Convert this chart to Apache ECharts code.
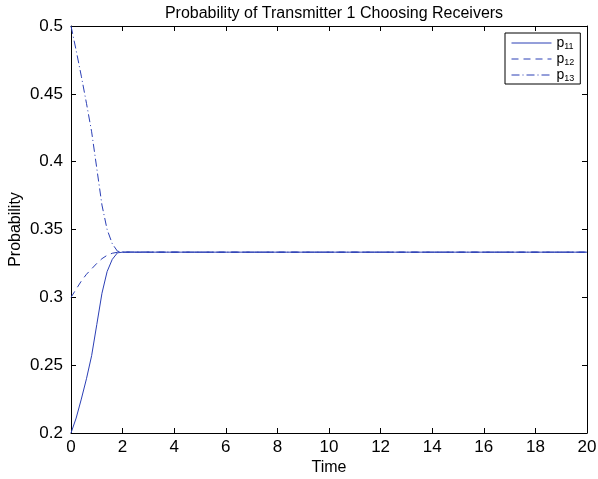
<!DOCTYPE html>
<html>
<head>
<meta charset="utf-8">
<script src="https://cdn.jsdelivr.net/npm/echarts@6/dist/echarts.min.js"></script>
<style>
  html, body { margin: 0; padding: 0; background: #fff; }
  #chart-container { width: 598px; height: 479px; }
</style>
</head>
<body>
<div id="chart-container"></div>
<script>
// Data
const time = [0, 0.2, 0.4, 0.6, 0.8, 1.0, 1.2, 1.4, 1.6, 1.8, 2.0, 5, 10, 15, 20];
const p11 = [0.200, 0.211, 0.225, 0.240, 0.257, 0.280, 0.303, 0.319, 0.328, 0.3328, 0.3333, 0.3333, 0.3333, 0.3333, 0.3333];
const p12 = [0.300, 0.306, 0.312, 0.317, 0.321, 0.325, 0.3285, 0.331, 0.3325, 0.3332, 0.3333, 0.3333, 0.3333, 0.3333, 0.3333];
const p13 = [0.500, 0.482, 0.463, 0.443, 0.422, 0.395, 0.368, 0.350, 0.3395, 0.3340, 0.3334, 0.3333, 0.3333, 0.3333, 0.3333];
const seriesNames = ['p11', 'p12', 'p13'];

const lineColor = '#2b3fb5';
const font = 'Liberation Sans';

const chartContainer = document.getElementById('chart-container');
const myChart = echarts.init(chartContainer);

function pairs(values) {
  return time.map((t, i) => [t, values[i]]);
}

const tickStyle = { show: true, inside: true, length: 5, lineStyle: { color: '#000' } };
const boxLine = { show: true, onZero: false, lineStyle: { color: '#000', width: 1 } };

function lineSeries(name, values, dash) {
  return {
    name: name,
    type: 'line',
    data: pairs(values),
    showSymbol: false,
    symbol: 'none',
    smooth: false,
    lineStyle: { color: lineColor, width: 1, type: dash },
    itemStyle: { color: lineColor }
  };
}

const option = {
  backgroundColor: '#fff',
  animation: false,
  title: {
    text: 'Probability of Transmitter 1 Choosing Receivers',
    left: 329,
    textAlign: 'center',
    top: 1,
    textStyle: { fontFamily: font, fontSize: 16, fontWeight: 'normal', color: '#000' }
  },
  legend: {
    data: seriesNames,
    orient: 'vertical',
    left: 505,
    top: 33,
    padding: [2, 6, 1, 6],
    itemGap: 0,
    itemWidth: 40,
    itemHeight: 10,
    borderColor: '#000',
    borderWidth: 1,
    backgroundColor: '#fff',
    itemStyle: { opacity: 0 },
    lineStyle: { width: 1 },
    formatter: function (name) {
      return '{a|p}{b|' + name.slice(1) + '}';
    },
    textStyle: {
      fontFamily: font,
      color: '#000',
      rich: {
        a: { fontFamily: font, fontSize: 14, lineHeight: 14, color: '#000' },
        b: { fontFamily: font, fontSize: 9, lineHeight: 9, color: '#000', padding: [7, 0, 0, 0] }
      }
    }
  },
  grid: {
    left: 71,
    right: 11,
    top: 26,
    bottom: 46,
    outerBoundsMode: 'none'
  },
  xAxis: [
    {
      type: 'value',
      min: 0,
      max: 20,
      interval: 2,
      name: 'Time',
      nameLocation: 'middle',
      nameGap: 27,
      nameMoveOverlap: false,
      nameTextStyle: { fontFamily: font, fontSize: 16, color: '#000' },
      axisLine: boxLine,
      axisTick: tickStyle,
      axisLabel: { fontFamily: font, fontSize: 17, color: '#000', margin: 6 },
      splitLine: { show: false }
    },
    {
      type: 'value',
      position: 'top',
      min: 0,
      max: 20,
      interval: 2,
      axisLine: boxLine,
      axisTick: tickStyle,
      axisLabel: { show: false },
      splitLine: { show: false }
    }
  ],
  yAxis: [
    {
      type: 'value',
      min: 0.2,
      max: 0.5,
      interval: 0.05,
      name: 'Probability',
      nameLocation: 'middle',
      nameGap: 47,
      nameMoveOverlap: false,
      nameTextStyle: { fontFamily: font, fontSize: 16, color: '#000' },
      axisLine: boxLine,
      axisTick: tickStyle,
      axisLabel: { fontFamily: font, fontSize: 17, color: '#000', margin: 8 },
      splitLine: { show: false }
    },
    {
      type: 'value',
      position: 'right',
      min: 0.2,
      max: 0.5,
      interval: 0.05,
      axisLine: boxLine,
      axisTick: tickStyle,
      axisLabel: { show: false },
      splitLine: { show: false }
    }
  ],
  series: [
    lineSeries('p11', p11, 'solid'),
    lineSeries('p12', p12, [7, 5]),
    lineSeries('p13', p13, [8, 3, 1, 3])
  ]
};

myChart.setOption(option);
</script>
</body>
</html>
